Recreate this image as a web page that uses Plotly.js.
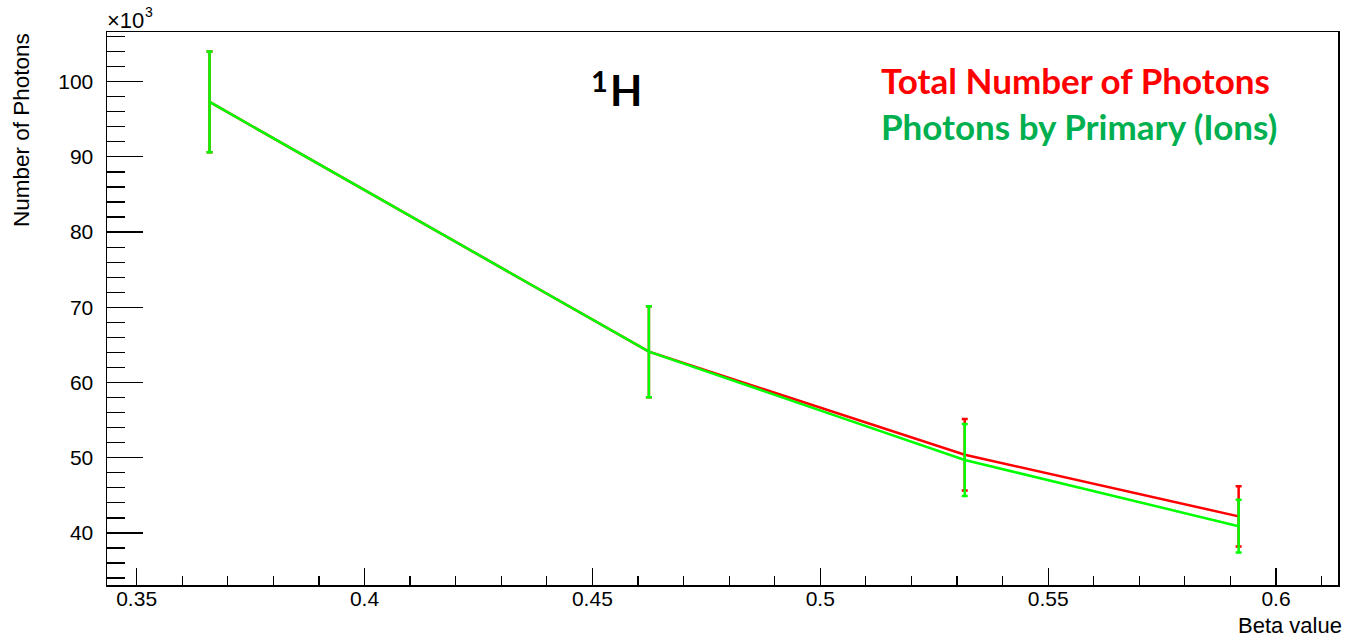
<!DOCTYPE html>
<html>
<head>
<meta charset="utf-8">
<script src="https://cdn.plot.ly/plotly-3.0.1.min.js"></script>
<style>html,body{margin:0;padding:0;background:#fff;}#chart{width:1345px;height:640px;}</style>
</head>
<body>
<div id="chart"></div>
<script>
// Data (values in units of 10^3 photons)
const betaValues = [0.366, 0.4624, 0.5317, 0.5918];
const totalPhotons = [97.3, 64.1, 50.4, 42.2];
const totalErrors = [6.7, 6.05, 4.75, 4.0];
const primaryPhotons = [97.3, 64.1, 49.7, 40.9];
const primaryErrors = [6.7, 6.05, 4.8, 3.5];
const xTickVals = [0.35, 0.4, 0.45, 0.5, 0.55, 0.6];
const xTickText = ["0.35", "0.4", "0.45", "0.5", "0.55", "0.6"];
const yTickVals = [40, 50, 60, 70, 80, 90, 100];
const yTickText = ["40", "50", "60", "70", "80", "90", "100"];

const W = 1345, H = 640;
const L = 107, R = 7, T = 32, B = 55;
const pw = W - L - R, ph = H - T - B;
const px = x => (x - L) / pw;
const py = y => (H - B - y) / ph;

const traces = [
  {
    x: betaValues, y: totalPhotons, type: 'scatter', mode: 'lines',
    name: 'Total Number of Photons',
    line: {color: '#ff0000', width: 2.5},
    error_y: {type: 'data', array: totalErrors, visible: true, color: '#ff0000', thickness: 2.5, width: 3}
  },
  {
    x: betaValues, y: primaryPhotons, type: 'scatter', mode: 'lines',
    name: 'Photons by Primary (Ions)',
    line: {color: '#00ff00', width: 2.5},
    error_y: {type: 'data', array: primaryErrors, visible: true, color: '#00ff00', thickness: 2.5, width: 3}
  }
];

const tickFont = {family: 'Liberation Sans, Arial, sans-serif', size: 21, color: '#000'};
const helv = 'Liberation Sans, Arial, sans-serif';

const layout = {
  width: W, height: H,
  margin: {l: L, r: R, t: T, b: B, pad: 0},
  paper_bgcolor: '#fff', plot_bgcolor: '#fff',
  showlegend: false,
  xaxis: {
    range: [0.3435, 0.6136],
    tickmode: 'array', tickvals: xTickVals, ticktext: xTickText,
    ticks: 'inside', ticklen: 17, tickwidth: 1.2, tickcolor: '#000',
    minor: {tickmode: 'linear', tick0: 0, dtick: 0.01, ticks: 'inside', ticklen: 9, tickwidth: 1.2, tickcolor: '#000', showgrid: false},
    showline: true, mirror: true, linecolor: '#000', linewidth: 1.5,
    showgrid: false, zeroline: false,
    tickfont: tickFont, ticklabelstandoff: -6
  },
  yaxis: {
    range: [33.08, 106.6],
    tickmode: 'array', tickvals: yTickVals, ticktext: yTickText,
    ticks: 'inside', ticklen: 36, tickwidth: 1.2, tickcolor: '#000',
    minor: {tickmode: 'linear', tick0: 0, dtick: 2, ticks: 'inside', ticklen: 18, tickwidth: 1.2, tickcolor: '#000', showgrid: false},
    showline: true, mirror: true, linecolor: '#000', linewidth: 1.5,
    showgrid: false, zeroline: false,
    tickfont: tickFont, ticklabelstandoff: 8
  },
  annotations: [
    {xref: 'paper', yref: 'paper', x: px(22), y: py(31), xanchor: 'center', yanchor: 'top',
     text: 'Number of Photons', textangle: -90, showarrow: false,
     font: {family: helv, size: 22.5, color: '#000'}},
    {xref: 'paper', yref: 'paper', x: px(1344), y: py(625), xanchor: 'right', yanchor: 'middle',
     text: 'Beta value', showarrow: false,
     font: {family: helv, size: 22, color: '#000'}},
    {xref: 'paper', yref: 'paper', x: px(105), y: py(21), xanchor: 'left', yanchor: 'middle',
     text: '×10', showarrow: false,
     font: {family: helv, size: 22, color: '#000'}},
    {xref: 'paper', yref: 'paper', x: px(143), y: py(12), xanchor: 'left', yanchor: 'middle',
     text: '3', showarrow: false,
     font: {family: helv, size: 14, color: '#000'}},
    {xref: 'paper', yref: 'paper', x: px(879), y: py(80), xanchor: 'left', yanchor: 'middle',
     text: 'Total Number of Photons', showarrow: false,
     font: {family: 'Lato, sans-serif', size: 35, color: '#ff0000', weight: 'bold'}},
    {xref: 'paper', yref: 'paper', x: px(879), y: py(126), xanchor: 'left', yanchor: 'middle',
     text: 'Photons by Primary (Ions)', showarrow: false,
     font: {family: 'Lato, sans-serif', size: 35, color: '#00b050', weight: 'bold'}},
    {xref: 'paper', yref: 'paper', x: px(589), y: py(80), xanchor: 'left', yanchor: 'middle',
     text: '1', showarrow: false,
     font: {family: 'Lato, sans-serif', size: 29, color: '#000', weight: 'bold'}},
    {xref: 'paper', yref: 'paper', x: px(608), y: py(90), xanchor: 'left', yanchor: 'middle',
     text: 'H', showarrow: false,
     font: {family: 'Lato, sans-serif', size: 42, color: '#000', weight: 'bold'}}
  ]
};

Plotly.newPlot('chart', traces, layout, {displayModeBar: false, staticPlot: true});
</script>
</body>
</html>
